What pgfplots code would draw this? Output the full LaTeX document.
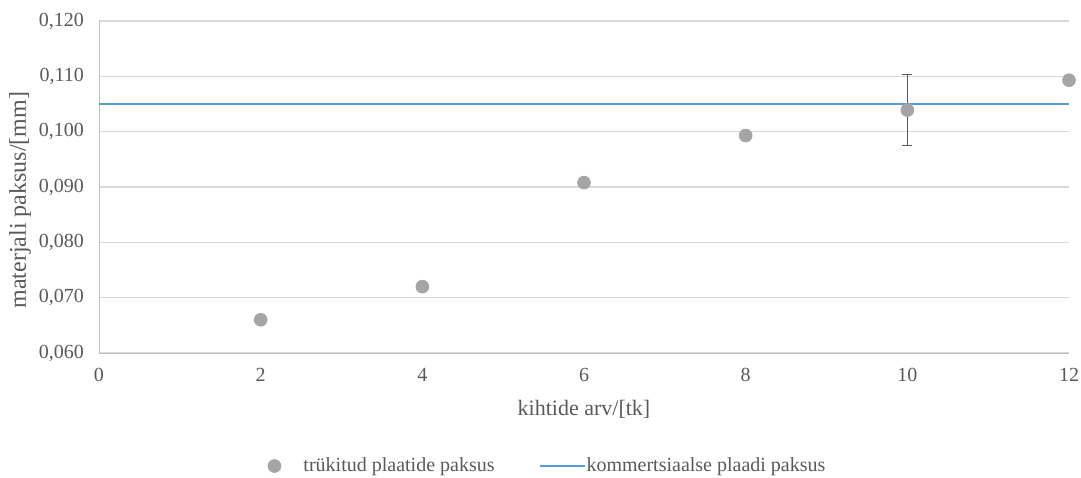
\documentclass[border=0pt]{standalone}
\usepackage{pgfplots}
\pgfplotsset{compat=1.18}
\usepackage{fontspec}
\setmainfont{Liberation Serif}
\definecolor{txt}{HTML}{595959}
\definecolor{gridc}{HTML}{D9D9D9}
\definecolor{axc}{HTML}{BFBFBF}
\definecolor{ptc}{HTML}{A5A5A5}
\definecolor{linec}{HTML}{5B9BD5}
\pgfplotsset{
  mylinelegend/.style={legend image code/.code={\path[draw=none,fill=none] (0pt,-3.5pt) rectangle (23.5pt,3.5pt); \draw[##1] (0pt,0pt) -- (22.5pt,0pt);}},
  mymarklegend/.style={legend image code/.code={\path[draw=none,fill=none] (-2.2pt,-3.5pt) rectangle (14.5pt,3.5pt); \draw[mark repeat=2,mark phase=2,##1] plot coordinates {(-1pt,0pt) (0pt,0pt) (1pt,0pt)};}},
}
\begin{document}
\begin{tikzpicture}
\useasboundingbox (0,0) rectangle (540.5pt,238.5pt);
\begin{axis}[
  at={(49.5pt,62pt)}, anchor=south west,
  scale only axis, width=485pt, height=166pt,
  xmin=0, xmax=12, ymin=0.060, ymax=0.120,
  xtick={0,2,4,6,8,10,12},
  ytick={0.060,0.070,0.080,0.090,0.100,0.110,0.120},
  axis lines*=left, axis line style={draw=axc, -},
  ymajorgrids, grid style={draw=gridc, line width=0.6pt},
  major tick length=0pt,
  tick label style={font=\fontsize{10}{12}\selectfont, text=txt},
  /pgf/number format/assume math mode=true,
  yticklabel style={/pgf/number format/fixed, /pgf/number format/fixed zerofill,
    /pgf/number format/precision=3, /pgf/number format/use comma, xshift=-4pt},
  scaled y ticks=false,
  xticklabel style={yshift=-4pt},
  xlabel={kihtide arv/[tk]}, ylabel={materjali paksus/[mm]},
  every axis x label/.style={at={(axis description cs:0.5,-0.169)}, anchor=center,
    font=\fontsize{11}{13}\selectfont, text=txt},
  every axis y label/.style={at={(axis description cs:-0.0814,0.46)}, rotate=90, anchor=center,
    font=\fontsize{12}{14}\selectfont, text=txt},
  legend columns=2,
  legend style={at={(axis description cs:0.4616,-0.3404)}, anchor=center, draw=none, fill=none,
    font=\fontsize{10}{12}\selectfont, text=txt, column sep=0pt,
    nodes={inner sep=0pt},
    /tikz/every even column/.append style={column sep=22pt}},
  legend cell align=left,
  clip=false,
]
\addplot[only marks, mark=*, mark size=3.2pt, mark options={draw=ptc, fill=ptc}, mymarklegend,
  error bars/.cd, y dir=both, y explicit,
  error bar style={draw=txt, line width=0.6pt},
  error mark options={draw=txt, rotate=90, mark size=2.5pt, line width=0.6pt}]
  coordinates {
  (2,0.0660) (4,0.0720) (6,0.0908) (8,0.0993) (10,0.1039) +- (0,0.0064) (12,0.1093)
};
\addlegendentry{trükitud plaatide paksus}
\addplot[draw=linec, line width=1pt, no marks, mylinelegend]
  coordinates {(0,0.105) (12,0.105)};
\addlegendentry{kommertsiaalse plaadi paksus}
\end{axis}
\end{tikzpicture}
\end{document}
